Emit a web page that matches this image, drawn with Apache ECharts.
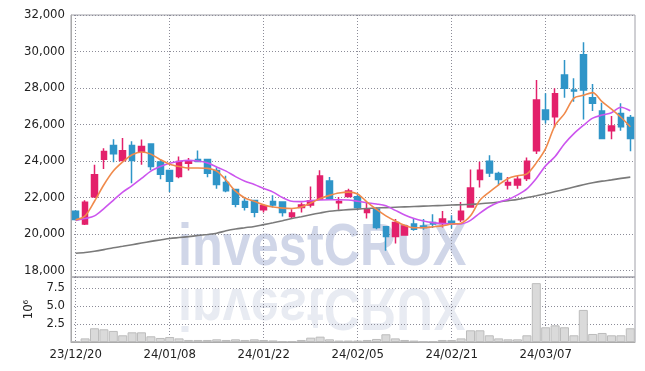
<!DOCTYPE html>
<html><head><meta charset="utf-8">
<script src="https://cdn.jsdelivr.net/npm/echarts@6/dist/echarts.min.js"></script>
<style>html,body{margin:0;padding:0;background:#fff}#c{width:645px;height:371px}</style>
</head><body><div id="c"></div>
<script>
const dates = ['23/12/20','23/12/21','23/12/22','23/12/26','23/12/27','23/12/28','24/01/02','24/01/03','24/01/04','24/01/05',
'24/01/08','24/01/09','24/01/10','24/01/11','24/01/12','24/01/15','24/01/16','24/01/17','24/01/18','24/01/19',
'24/01/22','24/01/23','24/01/24','24/01/25','24/01/26','24/01/29','24/01/30','24/01/31','24/02/01','24/02/02',
'24/02/05','24/02/06','24/02/07','24/02/08','24/02/13','24/02/14','24/02/15','24/02/16','24/02/19','24/02/20',
'24/02/21','24/02/22','24/02/23','24/02/26','24/02/27','24/02/28','24/02/29','24/03/04','24/03/05','24/03/06',
'24/03/07','24/03/08','24/03/11','24/03/12','24/03/13','24/03/14','24/03/15','24/03/18','24/03/19','24/03/20'];
const opens  = [21250,20550,22050,24100,24850,24030,24850,24540,24940,23950,23480,23150,23880,24080,24080,23480,22820,22440,21780,21840,
21330,21780,21760,20960,21450,21600,21910,22910,21720,22060,22050,21180,21360,20400,19870,19950,20550,20450,20640,20580,
20700,20790,21490,22990,23990,23320,22690,22690,23040,24560,26800,26430,28720,27890,29820,27470,26740,25660,26610,26380];
const closes = [20800,21750,23250,24520,24400,24570,24030,24800,23700,23280,22900,23970,23990,23970,23330,22710,22380,21640,21470,21200,
21550,21600,21180,21160,21600,21820,23180,21950,21780,22360,21450,21360,20360,19870,20640,20450,20270,20360,20550,20820,
20570,21250,22530,23500,23350,22990,22820,23010,23990,27350,26280,27680,27990,27840,27890,27160,25240,25920,25880,25240];
const lows   = [20750,20500,21980,23570,23930,24030,22790,23800,23500,23000,22300,23060,23480,23940,23110,22480,22290,21470,21290,20920,
21180,21450,20960,20820,21180,21450,21910,21910,21330,22000,21330,20860,20270,19090,19490,19950,20180,20240,20330,20360,
20300,20660,21490,22550,23130,22680,22440,22490,22910,24380,26060,25840,27470,27250,26280,26740,25240,25190,25660,24540];
const highs  = [21300,21850,23800,24700,25200,25270,25080,25180,24940,24060,23480,24250,24170,24580,24080,23660,23200,22440,22020,21840,
21640,22130,21760,21360,21730,22600,23490,23130,22030,22490,22180,21760,21450,20400,20820,20450,20850,20820,21090,21270,
21030,21760,23540,23960,24320,23410,23130,23230,24200,28440,27710,27990,29540,28530,30510,28220,27200,26470,27160,26520];
const ma5  = [20780,21000,21800,22700,23450,23950,24350,24500,24380,24080,23830,23700,23620,23620,23600,23450,22950,22350,21980,21800,
21600,21480,21420,21400,21480,21700,21950,22120,22250,22300,22200,21750,21350,21000,20720,20480,20350,20350,20400,20450,
20550,20600,21000,21850,22300,22700,23050,23200,23300,23900,24700,25950,26600,27450,27600,27750,27250,26850,26400,25880];
const ma20 = [20750,20850,21000,21400,21850,22300,22650,23050,23450,23700,23880,23990,24040,24000,23900,23680,23450,23150,22900,22720,
22500,22300,22000,21800,21780,21830,21870,21880,21880,21870,21800,21720,21650,21550,21300,21050,20850,20720,20630,20580,
20550,20560,20750,21150,21500,21750,21900,22150,22480,23050,23750,24250,24950,25500,25950,26350,26520,26650,26950,26760];
const ma120 = [18950,18990,19060,19150,19250,19330,19420,19510,19600,19680,19760,19810,19860,19920,19980,20050,20180,20280,20350,20420,
20520,20620,20730,20850,20950,21060,21160,21250,21300,21340,21370,21400,21430,21450,21470,21490,21510,21530,21550,21570,
21590,21610,21630,21660,21700,21760,21830,21900,22000,22100,22210,22330,22450,22580,22700,22810,22900,22970,23050,23120];
const volumes = [0.14,0.5,1.9,1.76,1.53,0.93,1.34,1.34,0.79,0.56,0.69,0.5,0.28,0.28,0.28,0.37,0.28,0.37,0.28,0.37,
0.28,0.22,0.14,0.14,0.28,0.6,0.74,0.37,0.2,0.2,0.2,0.28,0.42,1.07,0.5,0.28,0.2,0.07,0.1,0.28,
0.28,0.5,1.62,1.62,0.93,0.5,0.37,0.37,0.93,8.15,2.04,2.31,2.04,0.93,4.44,1.11,1.25,0.93,0.93,1.9];
const priceTicks = [18000,20000,22000,24000,26000,28000,30000,32000];
const volTicks = [2.5,5.0,7.5];

const candles = opens.map((o,i)=>[o, closes[i], lows[i], highs[i]]);
const FONT = 'DejaVu Sans Condensed';
const chart = echarts.init(document.getElementById('c'));
const GRIDC = '#8c8c98';
const gridLine = () => ({show:true, lineStyle:{color:GRIDC, type:[1,2], width:1}});
chart.setOption({
  animation:false,
  graphic:[
    {type:'text', x:178, y:278, scaleX:0.84, silent:true,
     style:{text:'investCRUX', x:0, y:0, verticalAlign:'bottom', font:'bold 60px "Liberation Sans"', fill:'rgba(196,204,226,0.8)'}},
    {type:'text', x:178, y:276, scaleX:0.84, scaleY:-1, silent:true,
     style:{text:'investCRUX', x:0, y:0, verticalAlign:'bottom', font:'bold 60px "Liberation Sans"', fill:'rgba(210,215,230,0.5)'}}
  ],
  grid:[
    {left:71, right:10, top:15, height:262, show:true, borderColor:'#a0a0a8', borderWidth:1},
    {left:71, right:10, top:277, height:65, show:true, borderColor:'#a0a0a8', borderWidth:1}
  ],
  xAxis:[
    {type:'category', gridIndex:0, data:dates,
     axisLine:{show:false}, axisTick:{show:false}, axisLabel:{show:false},
     splitLine:{show:true, interval:9, alignWithLabel:true, lineStyle:{color:GRIDC, type:[1,2], width:1}}},
    {type:'category', gridIndex:1, data:dates,
     axisLine:{show:true, lineStyle:{color:'#aaa'}}, axisTick:{show:false},
     axisLabel:{interval:9, color:'#222', fontFamily:FONT, fontSize:13, margin:6},
     splitLine:{show:true, interval:9, alignWithLabel:true, lineStyle:{color:GRIDC, type:[1,2], width:1}}}
  ],
  yAxis:[
    {type:'value', gridIndex:0, min:17650, max:32000, splitNumber:7,
     axisLine:{show:true, lineStyle:{color:'#aaa'}}, axisTick:{show:false},
     axisLabel:{showMinLabel:false, color:'#222', fontFamily:FONT, fontSize:13, margin:6,
       formatter:v=> priceTicks.indexOf(v)>=0 ? v.toLocaleString('en-US') : ''},
     splitLine:gridLine()},
    {type:'value', gridIndex:1, min:0, max:9, interval:2.5,
     name:'10⁶', nameLocation:'middle', nameRotate:90, nameGap:34,
     nameTextStyle:{color:'#222', fontFamily:FONT, fontSize:13},
     axisLine:{show:true, lineStyle:{color:'#aaa'}}, axisTick:{show:false},
     axisLabel:{color:'#222', fontFamily:FONT, fontSize:13, margin:6,
       formatter:v=> volTicks.indexOf(v)>=0 ? v.toFixed(1) : ''},
     splitLine:gridLine()}
  ],
  series:[
    {type:'bar', xAxisIndex:1, yAxisIndex:1, data:volumes, barCategoryGap:'4%',
     itemStyle:{color:'#dadada', borderColor:'#bdbdbd', borderWidth:1}},
    {type:'candlestick', xAxisIndex:0, yAxisIndex:0, data:candles, barWidth:'66%', z:3,
     itemStyle:{color:'#E3206B', color0:'#2F95C8', borderColor:'#E3206B', borderColor0:'#2F95C8', borderWidth:1.5}},
    {type:'line', xAxisIndex:0, yAxisIndex:0, data:ma120, symbol:'none', smooth:0.3, z:4,
     lineStyle:{color:'#7a7a7a', width:1.6}},
    {type:'line', xAxisIndex:0, yAxisIndex:0, data:ma20, symbol:'none', smooth:0.3, z:4,
     lineStyle:{color:'#CC55EE', width:1.6}},
    {type:'line', xAxisIndex:0, yAxisIndex:0, data:ma5, symbol:'none', smooth:0.3, z:5,
     lineStyle:{color:'#F08A4B', width:1.6}}
  ]
});
</script></body></html>
